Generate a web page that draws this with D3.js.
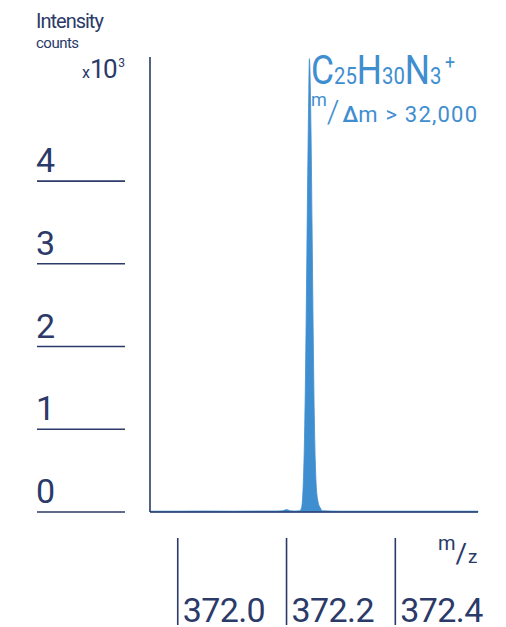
<!DOCTYPE html>
<html>
<head>
<meta charset="utf-8">
<script src="https://cdn.jsdelivr.net/npm/d3@7"></script>
<style>
  body { margin: 0; background: #fff; }
  text { font-family: Roboto, "Liberation Sans", sans-serif; font-weight: 400; }
</style>
</head>
<body>
<svg id="chart" width="506" height="627"></svg>
<script>
// m/z values of the profile and intensity in x10^3 counts
const mzValues = [371.949, 372.000, 372.050, 372.100, 372.150, 372.180, 372.193, 372.200, 372.207, 372.215, 372.224,
  372.227, 372.229, 372.231, 372.233, 372.235, 372.237, 372.239, 372.241, 372.242, 372.243, 372.245, 372.247,
  372.249, 372.251, 372.253, 372.255, 372.258, 372.262, 372.266, 372.300, 372.350, 372.400, 372.450, 372.500, 372.552];
const intensity = [0.01, 0.01, 0.012, 0.01, 0.012, 0.012, 0.015, 0.03, 0.015, 0.012, 0.015,
  0.04, 0.12, 0.38, 0.88, 1.72, 2.87, 4.10, 5.10, 5.48, 5.35, 4.60, 3.42,
  2.18, 1.18, 0.58, 0.28, 0.12, 0.05, 0.015, 0.01, 0.01, 0.01, 0.01, 0.01, 0.01];

const yTicks = [0, 1, 2, 3, 4];
const xTicks = [372.0, 372.2, 372.4];

const navy = "#2b3a68";
const blue = "#3f8ed0";

const svg = d3.select("#chart");

const x = d3.scaleLinear().domain([371.949, 372.552]).range([150, 478]);
const y = d3.scaleLinear().domain([0, 5.5]).range([512, 57]);

const data = mzValues.map((m, i) => ({ mz: m, v: intensity[i] }));

// peak
const area = d3.area()
  .x(d => x(d.mz))
  .y0(y(0))
  .y1(d => y(d.v))
  .curve(d3.curveMonotoneX);

svg.append("path")
  .datum(data)
  .attr("d", area)
  .attr("fill", blue)
  .attr("stroke", blue)
  .attr("stroke-width", 0.8);

// axis frame
svg.append("line")
  .attr("x1", x.range()[0]).attr("x2", x.range()[0])
  .attr("y1", y.range()[1]).attr("y2", y.range()[0])
  .attr("stroke", navy).attr("stroke-width", 1.6);
svg.append("line")
  .attr("x1", x.range()[0]).attr("x2", x.range()[1])
  .attr("y1", y(0)).attr("y2", y(0))
  .attr("stroke", navy).attr("stroke-width", 1.6);

// y ticks: label over a short rule
const yt = svg.append("g").selectAll("g").data(yTicks).join("g");
yt.append("line")
  .attr("x1", 37).attr("x2", 125)
  .attr("y1", d => y(d)).attr("y2", d => y(d))
  .attr("stroke", navy).attr("stroke-width", 1.6);
yt.append("text")
  .attr("x", 36).attr("y", d => y(d) - 9)
  .attr("font-size", 34).attr("font-weight", 300).attr("fill", navy)
  .text(d => d);

// x ticks: vertical rule with label on its right
const xt = svg.append("g").selectAll("g").data(xTicks).join("g");
xt.append("line")
  .attr("x1", d => x(d)).attr("x2", d => x(d))
  .attr("y1", 538).attr("y2", 625)
  .attr("stroke", navy).attr("stroke-width", 1.6);
xt.append("text")
  .attr("x", d => x(d) + 5).attr("y", 622)
  .attr("font-size", 34).attr("font-weight", 300).attr("fill", navy)
  .attr("letter-spacing", -0.6)
  .text(d => d3.format(".1f")(d));

// y axis title
svg.append("text").attr("x", 36).attr("y", 28)
  .attr("font-size", 20).attr("letter-spacing", -1).attr("fill", navy)
  .text("Intensity");
svg.append("text").attr("x", 36).attr("y", 48)
  .attr("font-size", 15).attr("letter-spacing", -0.5).attr("fill", navy)
  .text("counts");
const mult = svg.append("text").attr("x", 82).attr("y", 78).attr("fill", navy).attr("font-weight", 300);
mult.append("tspan").attr("font-size", 16).text("x");
mult.append("tspan").attr("font-size", 26).attr("letter-spacing", -1.5).text("10");
mult.append("tspan").attr("font-size", 12).attr("dx", 2).attr("dy", -11).text("3");

// x axis title
const mz = svg.append("text").attr("x", 438).attr("y", 563).attr("fill", navy).attr("font-weight", 300);
mz.append("tspan").attr("font-size", 20).attr("dy", -13).text("m");
mz.append("tspan").attr("font-size", 28).attr("dy", 13).text("/");
mz.append("tspan").attr("font-size", 19).attr("dx", 1).text("z");

// formula label
const f = svg.append("text").attr("x", 311).attr("y", 84).attr("fill", blue)
  .attr("font-weight", 300)
  .attr("textLength", 144).attr("lengthAdjust", "spacingAndGlyphs");
[["C", 40], ["25", 23], ["H", 40], ["30", 23], ["N", 40], ["3", 23]].forEach(([t, s]) => {
  f.append("tspan").attr("font-size", s).text(t);
});
f.append("tspan").attr("font-size", 20).attr("dx", 4).attr("dy", -15).text("+");

const r = svg.append("text").attr("x", 311).attr("y", 122).attr("fill", blue);
r.append("tspan").attr("font-size", 18).attr("dy", -16).text("m");
r.append("tspan").attr("font-size", 32).attr("font-weight", 300).attr("dy", 16).text("/");
r.append("tspan").attr("font-size", 22).attr("dx", 3).attr("font-weight", 500).text("Δ");
r.append("tspan").attr("font-size", 22).attr("letter-spacing", 1.2).text("m > 32,000");
</script>
</body>
</html>
